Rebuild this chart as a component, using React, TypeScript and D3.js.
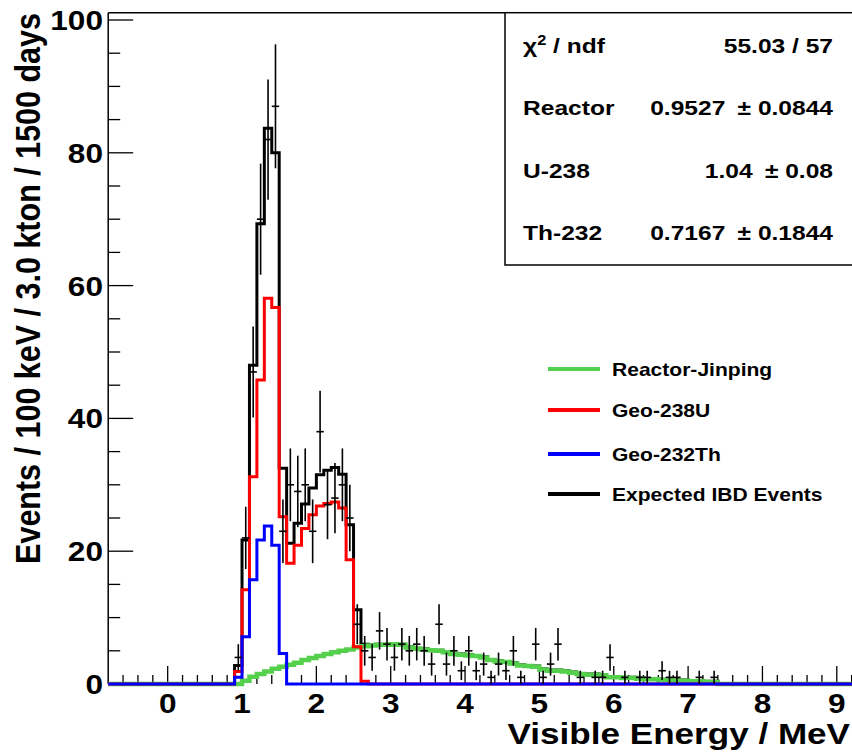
import React from "react";
import * as d3 from "d3";

// lower edges of the 100 keV bins (MeV)
const binLow = [
  0.9, 1.0, 1.1, 1.2, 1.3, 1.4, 1.5, 1.6, 1.7, 1.8, 1.9, 2.0, 2.1, 2.2, 2.3, 2.4, 2.5, 2.6, 2.7, 2.8,
  2.9, 3.0, 3.1, 3.2, 3.3, 3.4, 3.5, 3.6, 3.7, 3.8, 3.9, 4.0, 4.1, 4.2, 4.3, 4.4, 4.5, 4.6, 4.7, 4.8,
  4.9, 5.0, 5.1, 5.2, 5.3, 5.4, 5.5, 5.6, 5.7, 5.8, 5.9, 6.0, 6.1, 6.2, 6.3, 6.4, 6.5, 6.6, 6.7, 6.8,
  6.9, 7.0, 7.1, 7.2, 7.3,
];
const binWidth = 0.1;

// Geo-238U (red)
const geoU238 = [
  1.9, 14.2, 31.2, 45.8, 58.1, 56.7, 25.2, 18.2, 20.9, 23.4, 25.5, 26.8, 27.2, 27.4, 26.5, 18.7, 5.6, 0.4,
];
// Geo-232Th (blue)
const geoTh232 = [1.0, 7.1, 15.7, 21.7, 23.8, 20.9, 4.6];
// Reactor-Jinping (green)
const reactor = [
  0, 0.5, 1.1, 1.5, 1.9, 2.3, 2.6, 2.9, 3.2, 3.6, 3.9, 4.2, 4.5, 4.8, 5.0, 5.2, 5.5, 5.7, 5.8, 5.9,
  5.9, 6.0, 5.9, 5.5, 5.3, 5.2, 5.1, 5.0, 4.8, 4.5, 4.4, 4.3, 4.2, 4.0, 3.6, 3.4, 3.3, 3.1, 2.8, 2.7,
  2.6, 2.2, 2.0, 2.0, 1.9, 1.7, 1.5, 1.4, 1.4, 1.3, 1.0, 1.0, 0.9, 0.9, 0.8, 0.7, 0.7, 0.6, 0.6, 0.5,
  0.5, 0.4, 0.4, 0.3, 0.3,
];
// Expected IBD events (black)
const expected = [
  2.8, 21.7, 48.0, 69.3, 83.7, 80.0, 32.5, 21.2, 24.2, 27.1, 29.5, 31.5, 32.2, 32.6, 31.6, 24.0, 11.2, 6.0, 5.9, 6.0,
  6.0, 6.1, 6.0, 5.6, 5.4, 5.3, 5.2, 5.1, 4.9, 4.6, 4.5, 4.4, 4.3, 4.1, 3.7, 3.5, 3.4, 3.2, 2.9, 2.8,
  2.7, 2.3, 2.1, 2.1, 2.0, 1.8, 1.6, 1.5, 1.5, 1.4, 1.1, 1.1, 1.0, 1.0, 0.9, 0.8, 0.8, 0.7, 0.7, 0.6,
  0.6, 0.5, 0.5, 0.4, 0.4,
];
// pseudo data (events per bin)
const observed = [
  4, 22, 47, 70, 82, 87, 23, 30, 29, 30, 23, 38, 27, 28, 30, 25, 9, 5, 4, 8,
  6, 4, 6, 5, 6, 5, 3, 9, 3, 5, 2, 5, 2, 3, 1, 3, 2, 5, 1, 0,
  6, 1, 3, 6, 0, 0, 1, 0, 1, 1, 4, 0, 1, 0, 1, 1, 0, 2, 1, 1,
  0, 0, 1, 0, 1,
];

const statRows = [
  { label: "Reactor", value: "0.9527\u2002\u00B1 0.0844" },
  { label: "U-238", value: "1.04\u2002\u00B1 0.08" },
  { label: "Th-232", value: "0.7167\u2002\u00B1 0.1844" },
];
const legendItems = [
  { label: "Reactor-Jinping", color: "#55d04c" },
  { label: "Geo-238U", color: "#ff0000" },
  { label: "Geo-232Th", color: "#0000ff" },
  { label: "Expected IBD Events", color: "#000000" },
];
const xTickLabels = [0, 1, 2, 3, 4, 5, 6, 7, 8, 9];
const yTickLabels = [0, 20, 40, 60, 80, 100];

const W = 852, H = 754;
const FONT = "'Liberation Sans', Arial, Helvetica, sans-serif";
const SX = 1.17;

const x = d3.scaleLinear().domain([-0.8, 9.3]).range([108.2, 859.1]);
const y = d3.scaleLinear().domain([0, 100]).range([684, 20]);
const yTop = 12.7;

// outline of a histogram over the whole axis range, root style
function histPath(vals: number[]) {
  const first = binLow[0];
  const last = binLow[binLow.length - 1] + binWidth;
  const pts: [number, number][] = [
    [x(-0.8), y(0)],
    [x(first), y(0)],
  ];
  binLow.forEach((lo, i) => {
    const v = vals[i] ?? 0;
    pts.push([x(lo), y(v)]);
    pts.push([x(lo + binWidth), y(v)]);
  });
  pts.push([x(last), y(0)]);
  pts.push([x(9.3), y(0)]);
  return d3.line()(pts) as string;
}

function T({ x: tx, y: ty, size, anchor = "start", children }: any) {
  return (
    <text
      transform={`translate(${tx},${ty}) scale(${SX},1)`}
      fontSize={size}
      textAnchor={anchor}
      fontFamily={FONT}
      fontWeight="bold"
      fill="#000"
    >
      {children}
    </text>
  );
}

export default function App() {
  const xMinor = d3.range(-0.6, 9.3, 0.2).filter((t) => Math.abs(t - Math.round(t)) > 0.01);
  const yMinor = d3.range(5, 101, 5).filter((t) => t % 20 !== 0);

  return (
    <div style={{ position: "absolute", left: 0, top: 0 }}>
      <svg width={W} height={H} style={{ display: "block", background: "#fff" }}>
        {/* frame */}
        <line x1={x(-0.8)} x2={x(-0.8)} y1={yTop} y2={y(0)} stroke="#000" strokeWidth={1.5} />
        <line x1={x(-0.8)} x2={W} y1={yTop} y2={yTop} stroke="#000" strokeWidth={1.5} />

        {/* y ticks */}
        {yTickLabels.map((t) => (
          <line key={"ym" + t} x1={x(-0.8)} x2={x(-0.8) + 25} y1={y(t)} y2={y(t)} stroke="#000" strokeWidth={1.3} />
        ))}
        {yMinor.map((t) => (
          <line key={"yn" + t} x1={x(-0.8)} x2={x(-0.8) + 12} y1={y(t)} y2={y(t)} stroke="#000" strokeWidth={1.3} />
        ))}
        {yTickLabels.map((t) => (
          <T key={"yl" + t} x={103} y={y(t) + 10} size={27} anchor="end">
            {t}
          </T>
        ))}

        {/* x ticks */}
        {xTickLabels.map((t) => (
          <line key={"xm" + t} x1={x(t)} x2={x(t)} y1={y(0)} y2={y(0) - 18} stroke="#000" strokeWidth={1.3} />
        ))}
        {xMinor.map((t, i) => (
          <line key={"xn" + i} x1={x(t)} x2={x(t)} y1={y(0)} y2={y(0) - 9} stroke="#000" strokeWidth={1.3} />
        ))}
        {xTickLabels.map((t) => (
          <T key={"xl" + t} x={x(t)} y={713} size={27} anchor="middle">
            {t}
          </T>
        ))}

        {/* histograms */}
        <path d={histPath(expected)} fill="none" stroke="#000" strokeWidth={3} />
        <path d={histPath(reactor)} fill="none" stroke="#55d04c" strokeWidth={4.5} />
        <path d={histPath(geoU238)} fill="none" stroke="#ff0000" strokeWidth={3} />
        <path d={histPath(geoTh232)} fill="none" stroke="#0000ff" strokeWidth={3} />

        {/* data with sqrt(N) errors */}
        {binLow.map((lo, i) => {
          const n = observed[i];
          if (!n) return null;
          const e = Math.sqrt(n);
          const cx = x(lo + binWidth / 2);
          return (
            <g key={"d" + i} stroke="#000" strokeWidth={1.6}>
              <line x1={cx} x2={cx} y1={y(n - e)} y2={y(n + e)} />
              <line x1={x(lo)} x2={x(lo + binWidth)} y1={y(n)} y2={y(n)} />
            </g>
          );
        })}

        {/* stats box */}
        <rect x={505} y={yTop} width={W} height={265 - yTop} fill="#fff" stroke="#000" strokeWidth={1.5} />
        <text
          transform={`translate(523,53) scale(${SX},1)`}
          fontSize={21}
          fontFamily={FONT}
          fontWeight="bold"
        >
          {"\u03C7"}
          <tspan fontSize={14} dy={-8}>2</tspan>
          <tspan dy={8}>{" / ndf"}</tspan>
        </text>
        <T x={833} y={53} size={21} anchor="end">55.03 / 57</T>
        {statRows.map((r, i) => (
          <g key={r.label}>
            <T x={523} y={115 + i * 62.5} size={21}>
              {r.label}
            </T>
            <T x={833} y={115 + i * 62.5} size={21} anchor="end">
              {r.value}
            </T>
          </g>
        ))}

        {/* legend */}
        {legendItems.map((it, i) => {
          const ly = [369, 410, 454, 494][i];
          return (
            <g key={it.label}>
              <line x1={548} x2={600} y1={ly} y2={ly} stroke={it.color} strokeWidth={4} />
              <T x={612} y={ly + 6.5} size={18}>
                {it.label}
              </T>
            </g>
          );
        })}

        {/* axis titles */}
        <T x={850} y={744} size={30} anchor="end">
          Visible Energy / MeV
        </T>
        <text
          transform={`translate(40,13) rotate(-90) scale(1,${SX})`}
          fontSize={30.5}
          textAnchor="end"
          fontFamily={FONT}
          fontWeight="bold"
        >
          Events / 100 keV / 3.0 kton / 1500 days
        </text>
      </svg>
    </div>
  );
}
